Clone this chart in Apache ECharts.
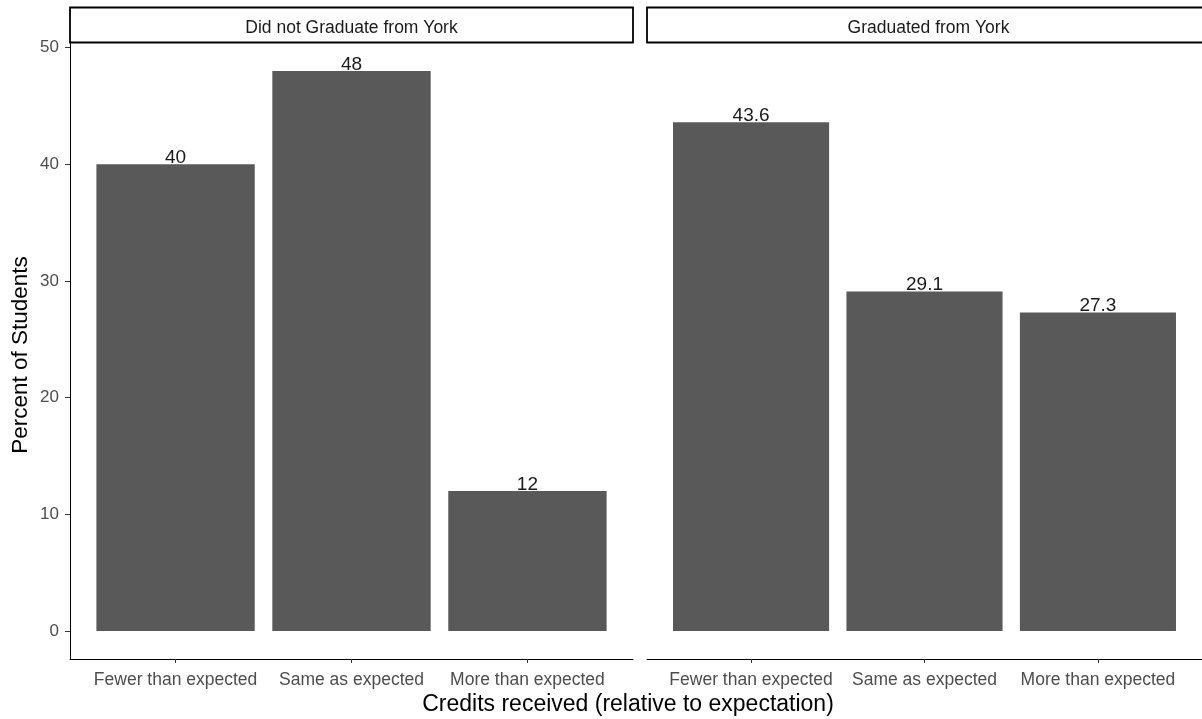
<!DOCTYPE html>
<html>
<head>
<meta charset="utf-8">
<script src="https://cdn.jsdelivr.net/npm/echarts@6/dist/echarts.min.js"></script>
<style>
html,body{margin:0;padding:0;background:#fff;}
#chart{width:1202px;height:719px;}
</style>
</head>
<body>
<div id="chart"></div>
<script>
const categories = ['Fewer than expected', 'Same as expected', 'More than expected'];
const panels = ['Did not Graduate from York', 'Graduated from York'];
const notGraduatedValues = [40, 48, 12];
const graduatedValues = [43.6, 29.1, 27.3];
const notGraduatedLabels = ['40', '48', '12'];
const graduatedLabels = ['43.6', '29.1', '27.3'];
const yTicks = [0, 10, 20, 30, 40, 50];

const FONT = '"Liberation Sans", Arial, sans-serif';
const chart = echarts.init(document.getElementById('chart'), null, {renderer: 'canvas'});

const gridTop = 43, gridBottomY = 659;
const grids = [
  {left: 70, top: gridTop, width: 563, height: gridBottomY - gridTop},
  {left: 647, top: gridTop, width: 563, height: gridBottomY - gridTop}
];

function xAxis(i) {
  return {
    type: 'value', gridIndex: i, min: -0.6, max: 2.6,
    axisLine: {show: true, onZero: false, lineStyle: {color: '#000', width: 1}},
    axisTick: {show: true, length: 4, lineStyle: {color: '#333'}, customValues: [0, 1, 2]},
    axisLabel: {
      show: true, customValues: [0, 1, 2], margin: 12,
      color: '#4D4D4D', fontSize: 17.5, fontFamily: FONT,
      formatter: v => categories[Math.round(v)]
    },
    splitLine: {show: false}
  };
}
function yAxis(i) {
  return {
    type: 'value', gridIndex: i, min: -2.4, max: 50.4, show: i === 0,
    axisLine: {show: true, onZero: false, lineStyle: {color: '#000', width: 1}},
    axisTick: {show: true, length: 5, lineStyle: {color: '#333'}, customValues: yTicks},
    axisLabel: {show: true, customValues: yTicks, margin: 11, color: '#4D4D4D', fontSize: 17, fontFamily: FONT},
    splitLine: {show: false}
  };
}

function makeSeries(i, values, labels) {
  return {
    type: 'custom', xAxisIndex: i, yAxisIndex: i,
    data: values.map((v, k) => [k, v]),
    clip: false,
    renderItem: function (params, api) {
      const x = api.value(0), y = api.value(1);
      const base = api.coord([x, 0]);
      const top = api.coord([x, y]);
      const w = api.size([0.9, 0])[0];
      return {
        type: 'group',
        children: [
          {type: 'rect', shape: {x: base[0] - w / 2, y: top[1], width: w, height: base[1] - top[1]},
           style: {fill: '#595959'}},
          {type: 'text', style: {text: labels[params.dataIndex], x: top[0], y: top[1] + 3,
           align: 'center', verticalAlign: 'bottom', fontSize: 19, fontFamily: FONT, fill: '#1A1A1A'}}
        ]
      };
    }
  };
}

const graphics = [];
grids.forEach((g, i) => {
  graphics.push({
    type: 'rect', shape: {x: g.left, y: 7.5, width: g.width, height: gridTop - 8},
    style: {fill: '#fff', stroke: '#000', lineWidth: 1.8}, z: 10
  });
  graphics.push({
    type: 'text', x: g.left + g.width / 2, y: 28.5,
    style: {text: panels[i], align: 'center', verticalAlign: 'middle', fontSize: 17.5, fontFamily: FONT, fill: '#1A1A1A'},
    z: 11
  });
});
graphics.push({
  type: 'text', x: 628, y: 705,
  style: {text: 'Credits received (relative to expectation)', align: 'center', verticalAlign: 'middle', fontSize: 23, fontFamily: FONT, fill: '#000'}
});
graphics.push({
  type: 'text', x: 21, y: 355, rotation: Math.PI / 2,
  style: {text: 'Percent of Students', align: 'center', verticalAlign: 'middle', fontSize: 22.5, fontFamily: FONT, fill: '#000'}
});

chart.setOption({
  animation: false,
  backgroundColor: '#fff',
  grid: grids,
  xAxis: [xAxis(0), xAxis(1)],
  yAxis: [yAxis(0), yAxis(1)],
  series: [makeSeries(0, notGraduatedValues, notGraduatedLabels), makeSeries(1, graduatedValues, graduatedLabels)],
  graphic: graphics
});
</script>
</body>
</html>
